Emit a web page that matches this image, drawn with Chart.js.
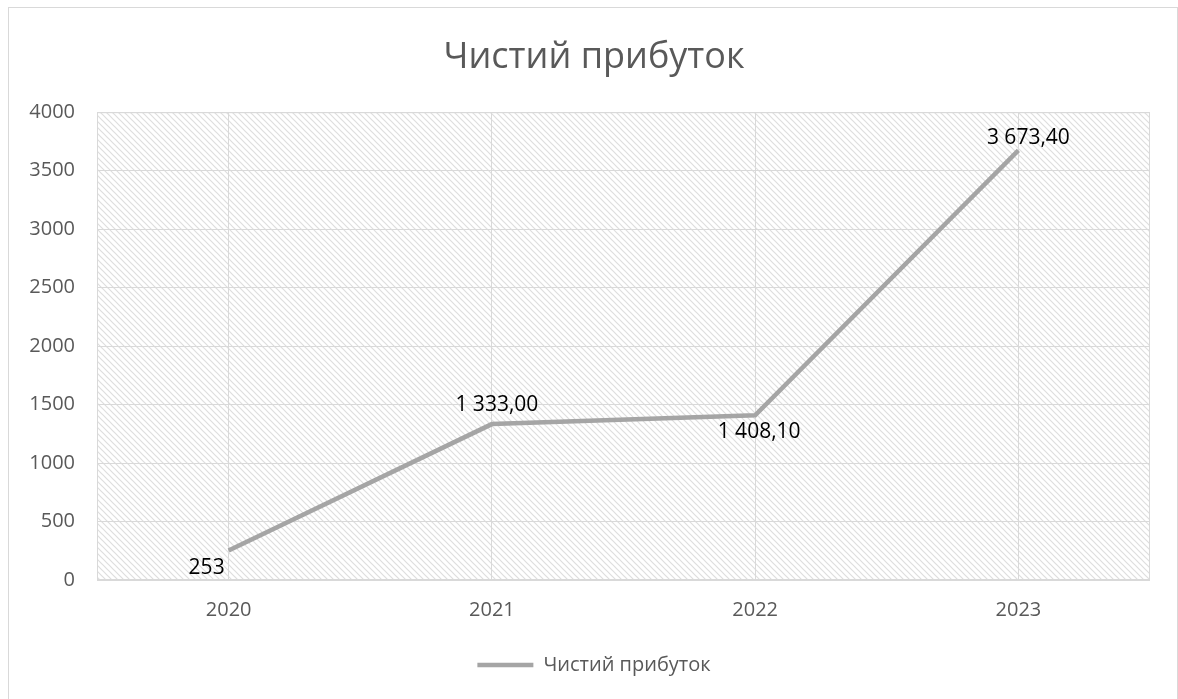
<!DOCTYPE html>
<html>
<head>
<meta charset="utf-8">
<script src="https://cdn.jsdelivr.net/npm/chart.js@4"></script>
<style>
    html, body { margin: 0; padding: 0; background: #fff; overflow: hidden; }
    #frame {
        position: absolute; left: 8px; top: 7px; width: 1170px; height: 700px;
        border: 1px solid #d9d9d9; box-sizing: border-box;
    }
    #wrap { position: absolute; left: 0; top: 0; width: 1178px; height: 699px; }
</style>
</head>
<body>
<div id="frame"></div>
<div id="wrap"><canvas id="chart"></canvas></div>
<script>
const years = ['2020', '2021', '2022', '2023'];
const profit = [253, 1333, 1408.1, 3673.4];
const profitLabels = ['253', '1 333,00', '1 408,10', '3 673,40'];
const yTicks = [0, 500, 1000, 1500, 2000, 2500, 3000, 3500, 4000];

const FONT = '"Open Sans", "DejaVu Sans", sans-serif';
const GREY_TEXT = '#595959';
const GRID = '#d9d9d9';

// diagonal hatch behind the plot
function makeHatch() {
    const c = document.createElement('canvas');
    c.width = 6; c.height = 6;
    const g = c.getContext('2d');
    g.strokeStyle = '#dedede';
    g.lineWidth = 1.2;
    g.beginPath();
    g.moveTo(-1, -1); g.lineTo(7, 7);
    g.moveTo(-1, 5); g.lineTo(1, 7);
    g.moveTo(5, -1); g.lineTo(7, 1);
    g.stroke();
    return g.createPattern(c, 'repeat');
}

const hatchPlugin = {
    id: 'hatchPlugin',
    beforeDraw(chart) {
        const {ctx, chartArea: a} = chart;
        ctx.save();
        ctx.fillStyle = makeHatch();
        ctx.fillRect(a.left, a.top, a.right - a.left, a.bottom - a.top);
        ctx.restore();
    },
    beforeDatasetsDraw(chart) {
        const {ctx, chartArea: a} = chart;
        ctx.save();
        ctx.strokeStyle = GRID;
        ctx.lineWidth = 1;
        ctx.strokeRect(a.left + 0.5, a.top + 0.5, a.right - a.left - 1, a.bottom - a.top);
        ctx.lineWidth = 2;
        ctx.beginPath();
        ctx.moveTo(a.left, a.bottom);
        ctx.lineTo(a.right, a.bottom);
        ctx.stroke();
        ctx.restore();
    }
};

// title and legend are centred on the frame, not on the plot area
const centerShiftPlugin = {
    id: 'centerShiftPlugin',
    afterLayout(chart) {
        const shift = 19;
        [chart.titleBlock, chart.legend].forEach(box => {
            if (!box) return;
            box.left += shift;
            box.right += shift;
        });
    }
};

// value labels next to each point
const labelOffsets = [[-22, 18], [5, -19], [4, 17], [10, -12]];
const valueLabelPlugin = {
    id: 'valueLabelPlugin',
    afterDatasetsDraw(chart) {
        const {ctx} = chart;
        const meta = chart.getDatasetMeta(0);
        ctx.save();
        ctx.font = '21px ' + FONT;
        ctx.fillStyle = '#000';
        ctx.textAlign = 'center';
        ctx.textBaseline = 'middle';
        meta.data.forEach((pt, i) => {
            const [dx, dy] = labelOffsets[i];
            ctx.fillText(profitLabels[i], pt.x + dx, pt.y + dy);
        });
        ctx.restore();
    }
};

new Chart(document.getElementById('chart'), {
    type: 'line',
    data: {
        labels: years,
        datasets: [{
            label: 'Чистий прибуток',
            data: profit,
            borderColor: '#a5a5a5',
            backgroundColor: '#a5a5a5',
            borderWidth: 4.5,
            pointRadius: 0,
            tension: 0
        }]
    },
    options: {
        responsive: true,
        maintainAspectRatio: false,
        animation: false,
        layout: {padding: {left: 0, right: 28, top: 0, bottom: 14}},
        scales: {
            x: {
                offset: true,
                grid: {color: GRID, offset: false, drawTicks: false},
                border: {display: false},
                ticks: {color: GREY_TEXT, font: {family: FONT, size: 20}, padding: 18},
                afterFit(scale) { scale.height = 65; }
            },
            y: {
                min: 0,
                max: 4000,
                afterBuildTicks(scale) { scale.ticks = yTicks.map(v => ({value: v})); },
                grid: {color: GRID, drawTicks: false},
                border: {display: false},
                ticks: {
                    color: GREY_TEXT,
                    font: {family: FONT, size: 20},
                    padding: 22,
                    callback: v => String(v)
                },
                afterFit(scale) { scale.width = 97; }
            }
        },
        plugins: {
            title: {
                display: true,
                text: 'Чистий прибуток',
                color: GREY_TEXT,
                font: {family: FONT, size: 36, weight: 'normal'},
                padding: {top: 36, bottom: 33}
            },
            legend: {
                position: 'bottom',
                labels: {
                    usePointStyle: true,
                    pointStyle: 'line',
                    pointStyleWidth: 56,
                    color: GREY_TEXT,
                    font: {family: FONT, size: 20},
                    padding: 10
                }
            },
            tooltip: {enabled: false}
        }
    },
    plugins: [centerShiftPlugin, hatchPlugin, valueLabelPlugin]
});
</script>
</body>
</html>
